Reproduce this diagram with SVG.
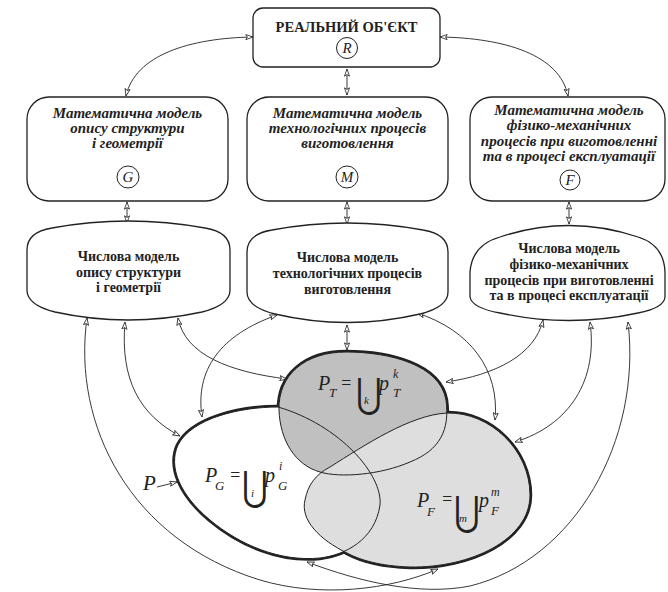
<svg xmlns="http://www.w3.org/2000/svg" width="668" height="592" viewBox="0 0 668 592">
<defs>
<marker id="ah" viewBox="0 0 10 8" refX="9.5" refY="4" markerWidth="8" markerHeight="6.4" markerUnits="userSpaceOnUse" orient="auto-start-reverse">
<path d="M0.5,0.8 L9.5,4 L0.5,7.2 L2.5,4 Z" fill="#fff" stroke="#222" stroke-width="1"/>
</marker>
</defs>
<style>
.box{fill:#fff;stroke:#222;stroke-width:1.3}
.hd{font-family:"Liberation Serif","Times New Roman",serif;font-weight:bold;font-size:14.5px;fill:#222;text-anchor:middle}
.mi{font-family:"Liberation Serif","Times New Roman",serif;font-weight:bold;font-style:italic;font-size:15px;fill:#222;text-anchor:middle}
.nb{font-family:"Liberation Serif","Times New Roman",serif;font-weight:bold;font-size:14px;fill:#222;text-anchor:middle}
.lt{font-family:"Liberation Serif","Times New Roman",serif;font-style:italic;font-size:15px;fill:#222;text-anchor:middle}
.cc{fill:#fff;stroke:#222;stroke-width:1}
.con{fill:none;stroke:#222;stroke-width:0.9;marker-start:url(#ah);marker-end:url(#ah)}
.thick{fill:none;stroke:#222;stroke-width:4.5}
.thin{fill:none;stroke:#222;stroke-width:1}
.m{font-family:"Liberation Serif","Times New Roman",serif;font-style:italic;fill:#222}
.u{font-family:"DejaVu Sans",sans-serif;font-weight:200;fill:#222;font-size:24px}
</style>

<g id="connectors">
<path class="con" d="M253 37 C190 38,135 55,126 96"/>
<path class="con" d="M440 37 C505 38,560 55,568 96"/>
<path class="con" d="M347 69 L347 95"/>
<path class="con" d="M127 202 L127 223"/>
<path class="con" d="M347 202 L347 224"/>
<path class="con" d="M569 202 L569 224"/>
<path class="con" d="M347 325 L347 350"/>
<path class="con" d="M87 318 C72 425,130 540,260 580 C320 598,390 590,438 569"/>
<path class="con" d="M125 322 C120 380,140 415,180 436"/>
<path class="con" d="M178 318 C185 355,230 372,287 379"/>
<path class="con" d="M277 315 C220 335,195 370,202 417"/>
<path class="con" d="M417 313 C470 330,500 370,495 420"/>
<path class="con" d="M543 320 C535 355,495 375,446 382"/>
<path class="con" d="M590 322 C598 380,570 425,515 442"/>
<path class="con" d="M628 322 C642 440,575 560,470 586 C420 596,360 582,307 562"/>
<path class="con" d="M157 487 L177 482" style="marker-start:none"/>
</g>

<g id="R">
<rect class="box" x="253" y="8" width="187" height="59" rx="10"/>
<text class="hd" x="346.5" y="32">РЕАЛЬНИЙ ОБ'ЄКТ</text>
<circle class="cc" cx="347" cy="48" r="10.5"/>
<text class="lt" x="347" y="53">R</text>
</g>

<g id="G">
<rect class="box" x="27" y="97" width="201" height="104" rx="22"/>
<text class="mi" x="127.5" y="118">Математична модель</text>
<text class="mi" x="127.5" y="133">опису структури</text>
<text class="mi" x="127.5" y="148">і геометрії</text>
<circle class="cc" cx="128" cy="177" r="11"/>
<text class="lt" x="128" y="182">G</text>
</g>

<g id="M">
<rect class="box" x="247" y="97" width="201" height="104" rx="22"/>
<text class="mi" x="347.5" y="118">Математична модель</text>
<text class="mi" x="347.5" y="133">технологічних процесів</text>
<text class="mi" x="347.5" y="148">виготовлення</text>
<circle class="cc" cx="347" cy="177" r="11"/>
<text class="lt" x="347" y="182">M</text>
</g>

<g id="F">
<rect class="box" x="470" y="97" width="195" height="104" rx="22"/>
<text class="mi" x="569" y="115">Математична модель</text>
<text class="mi" x="569" y="130">фізико-механічних</text>
<text class="mi" x="569" y="146">процесів при виготовленні</text>
<text class="mi" x="569" y="161">та в процесі експлуатації</text>
<circle class="cc" cx="570" cy="180" r="10"/>
<text class="lt" x="570" y="185">F</text>
</g>

<g id="NG">
<path class="box" d="M27 290 L27 250 Q27 232 52 228 Q128 214 205 228 Q230 232 230 250 L230 290 Q230 305 202 312 Q128 328 55 312 Q27 305 27 290 Z"/>
<text class="nb" x="128.5" y="261">Числова модель</text>
<text class="nb" x="128.5" y="277">опису структури</text>
<text class="nb" x="128.5" y="292">і геометрії</text>
</g>

<g id="NM">
<path class="box" d="M247 292 L247 252 Q247 234 272 230 Q347 216 423 230 Q448 234 448 252 L448 292 Q448 307 420 314 Q347 331 275 314 Q247 307 247 292 Z"/>
<text class="nb" x="347.5" y="262">Числова модель</text>
<text class="nb" x="347.5" y="278">технологічних процесів</text>
<text class="nb" x="347.5" y="294">виготовлення</text>
</g>

<g id="NF">
<path class="box" d="M470 297 L470 272 Q472 245 500 237 Q569 214 638 237 Q664 245 665 272 L665 297 Q664 308 638 313 Q569 328 500 313 Q472 308 470 297 Z"/>
<text class="nb" x="569" y="253">Числова модель</text>
<text class="nb" x="569" y="269">фізико-механічних</text>
<text class="nb" x="569" y="285">процесів при виготовленні</text>
<text class="nb" x="569" y="300">та в процесі експлуатації</text>
</g>

<g id="sets">
<path class="thick" d="M278 407 C240 407,192 418,178 445 C168 467,180 495,210 520 C240 545,280 562,320 558 C345 555,375 540,380 505 C383 475,340 425,278 407 Z"/>
<path class="thick" d="M346 352 C390 352,440 365,446 400 C450 430,440 450,410 462 C380 475,340 478,320 472 C295 465,280 440,279 410 C278 375,305 352,346 352 Z"/>
<path class="thick" d="M447 413 C490 412,530 450,530 495 C530 540,470 568,410 567 C380 566,360 560,347 553 C320 540,300 520,305 500 C308 485,315 475,330 467 C365 445,410 415,447 413 Z"/>
<path fill="#fff" d="M278 407 C240 407,192 418,178 445 C168 467,180 495,210 520 C240 545,280 562,320 558 C345 555,375 540,380 505 C383 475,340 425,278 407 Z"/>
<path fill="#c0c0c0" d="M346 352 C390 352,440 365,446 400 C450 430,440 450,410 462 C380 475,340 478,320 472 C295 465,280 440,279 410 C278 375,305 352,346 352 Z"/>
<path fill="#dedede" d="M447 413 C490 412,530 450,530 495 C530 540,470 568,410 567 C380 566,360 560,347 553 C320 540,300 520,305 500 C308 485,315 475,330 467 C365 445,410 415,447 413 Z"/>
<path class="thin" d="M278 407 C240 407,192 418,178 445 C168 467,180 495,210 520 C240 545,280 562,320 558 C345 555,375 540,380 505 C383 475,340 425,278 407 Z"/>
<path class="thin" d="M346 352 C390 352,440 365,446 400 C450 430,440 450,410 462 C380 475,340 478,320 472 C295 465,280 440,279 410 C278 375,305 352,346 352 Z"/>
<path class="thin" d="M447 413 C490 412,530 450,530 495 C530 540,470 568,410 567 C380 566,360 560,347 553 C320 540,300 520,305 500 C308 485,315 475,330 467 C365 445,410 415,447 413 Z"/>
</g>

<g id="labels">
<text class="m" x="143" y="490" font-size="21">P</text>
<text class="m" x="318" y="390" font-size="20">P</text>
<text class="m" x="329" y="397" font-size="13">T</text>
<text class="m" x="340" y="389" font-size="18" font-style="normal">=</text>
<text class="u" transform="translate(356 407) scale(1.3 1.7)">⋃</text>
<text class="m" x="364" y="404" font-size="11">k</text>
<text class="m" x="379" y="390" font-size="20">p</text>
<text class="m" x="393" y="378" font-size="12">k</text>
<text class="m" x="393" y="397" font-size="13">T</text>

<text class="m" x="205" y="482" font-size="20">P</text>
<text class="m" x="215" y="490" font-size="13">G</text>
<text class="m" x="229" y="481" font-size="18" font-style="normal">=</text>
<text class="u" transform="translate(242 500) scale(1.3 1.7)">⋃</text>
<text class="m" x="251" y="497" font-size="11">i</text>
<text class="m" x="265" y="482" font-size="20">p</text>
<text class="m" x="279" y="470" font-size="12">i</text>
<text class="m" x="278" y="490" font-size="13">G</text>

<text class="m" x="417" y="507" font-size="20">P</text>
<text class="m" x="427" y="516" font-size="13">F</text>
<text class="m" x="441" y="505" font-size="18" font-style="normal">=</text>
<text class="u" transform="translate(454 525) scale(1.3 1.7)">⋃</text>
<text class="m" x="459" y="522" font-size="11">m</text>
<text class="m" x="479" y="507" font-size="20">p</text>
<text class="m" x="491" y="496" font-size="12">m</text>
<text class="m" x="491" y="515" font-size="13">F</text>
</g>
</svg>
